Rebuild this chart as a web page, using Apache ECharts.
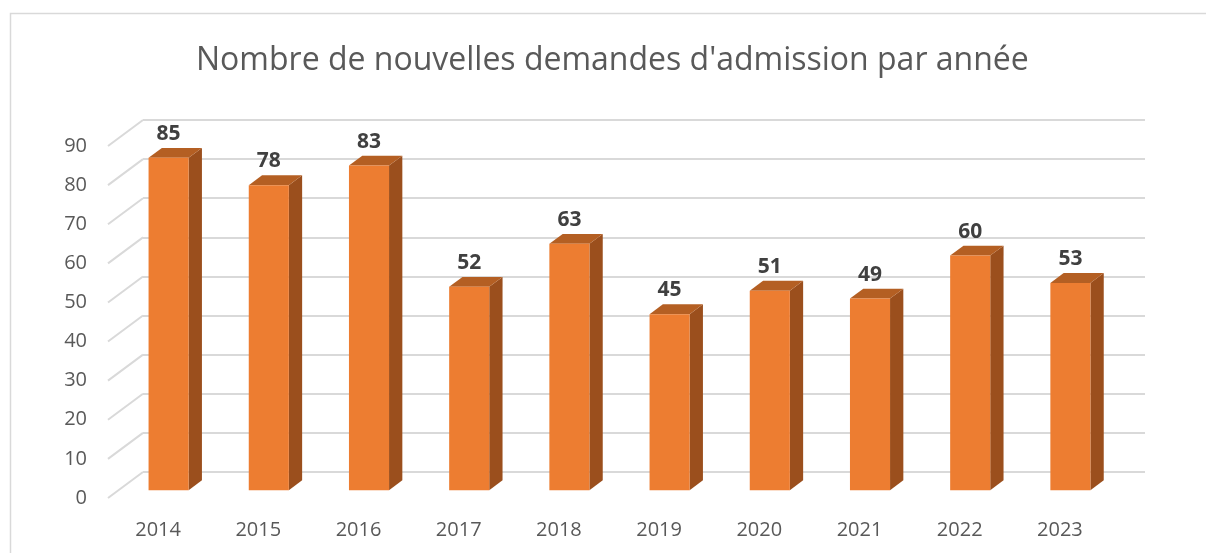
<!DOCTYPE html>
<html lang="fr">
<head>
<meta charset="utf-8">
<title>Nouvelles demandes d'admission</title>
<script src="https://cdn.jsdelivr.net/npm/echarts@6/dist/echarts.min.js"></script>
<style>
  html, body { margin: 0; padding: 0; background: #fff; }
  #main { width: 1206px; height: 553px; }
</style>
</head>
<body>
<div id="main"></div>
<script>
// donnees
var annees = ['2014', '2015', '2016', '2017', '2018', '2019', '2020', '2021', '2022', '2023'];
var demandes = [85, 78, 83, 52, 63, 45, 51, 49, 60, 53];
var graduations = [0, 10, 20, 30, 40, 50, 60, 70, 80, 90];

// profondeur du mur du fond (effet 3D)
var DX = 35, DY = -26;
var BAR_FRONT = 0.3, BAR_BACK = 0.68, BAR_W = 0.4;

var myChart = echarts.init(document.getElementById('main'));

var option = {
  animation: false,
  title: {
    text: "Nombre de nouvelles demandes d'admission par année",
    left: 191,
    top: 40,
    textStyle: { fontFamily: 'Open Sans', fontSize: 32, fontWeight: 'normal', color: '#595959' }
  },
  graphic: [{
    type: 'rect',
    shape: { x: 10.5, y: 13.5, width: 1300, height: 700 },
    style: { fill: 'none', stroke: '#d9d9d9', lineWidth: 1.5 },
    silent: true
  }],
  grid: [
    { left: 108, right: 96, top: 146, bottom: 55 },
    { left: 108 + DX, right: 96 - DX, top: 146 + DY, bottom: 55 - DY }
  ],
  xAxis: [
    {
      type: 'category', gridIndex: 0, data: annees,
      axisLine: { show: false }, axisTick: { show: false },
      axisLabel: { margin: 22, fontFamily: 'Open Sans', fontSize: 20, color: '#595959' }
    },
    {
      type: 'category', gridIndex: 1, data: annees, show: false
    }
  ],
  yAxis: [
    {
      type: 'value', gridIndex: 0, min: 0, max: 90, interval: 10,
      splitLine: { show: false }, axisLine: { show: false }, axisTick: { show: false },
      axisLabel: { margin: 21, padding: [4, 0, 0, 0], fontFamily: 'Open Sans', fontSize: 20, color: '#595959' }
    },
    {
      type: 'value', gridIndex: 1, min: 0, max: 90, interval: 10,
      axisLine: { show: false }, axisTick: { show: false }, axisLabel: { show: false },
      splitLine: { lineStyle: { color: '#d9d9d9', width: 2 } }
    }
  ],
  series: [
    {
      // lignes obliques du plancher vers le mur du fond
      type: 'custom', xAxisIndex: 0, yAxisIndex: 0, silent: true,
      data: graduations.map(function (g) { return [0, g]; }),
      renderItem: function (params, api) {
        var x = params.coordSys.x;
        var y = api.coord([0, api.value(1)])[1];
        return {
          type: 'line',
          shape: { x1: x, y1: y, x2: x + DX, y2: y + DY },
          style: { stroke: '#d9d9d9', lineWidth: 2 }
        };
      }
    },
    {
      type: 'custom', xAxisIndex: 0, yAxisIndex: 0,
      data: demandes.map(function (v, i) { return [i, v]; }),
      renderItem: function (params, api) {
        var base = api.coord([api.value(0), 0]);
        var top = api.coord([api.value(0), api.value(1)]);
        var bw = api.size([1, 0])[0] * BAR_W;
        var fx = BAR_FRONT * DX, fy = BAR_FRONT * DY;
        var ddx = (BAR_BACK - BAR_FRONT) * DX, ddy = (BAR_BACK - BAR_FRONT) * DY;
        var x0 = base[0] - bw / 2 + fx, x1 = base[0] + bw / 2 + fx;
        var yb = base[1] + fy, yt = top[1] + fy;
        return {
          type: 'group',
          children: [
            {
              type: 'polygon',
              shape: { points: [[x1, yb], [x1 + ddx, yb + ddy], [x1 + ddx, yt + ddy], [x1, yt]] },
              style: { fill: '#9b4f1d' }
            },
            {
              type: 'polygon',
              shape: { points: [[x0, yt], [x1, yt], [x1 + ddx, yt + ddy], [x0 + ddx, yt + ddy]] },
              style: { fill: '#b45f23' }
            },
            {
              type: 'rect',
              shape: { x: x0, y: yt, width: x1 - x0, height: yb - yt },
              style: { fill: '#ed7d31' }
            },
            {
              type: 'text',
              x: (x0 + x1) / 2, y: yt - 24,
              style: {
                text: String(api.value(1)), align: 'center', verticalAlign: 'middle',
                font: 'bold 21px "Open Sans"', fill: '#404040'
              }
            }
          ]
        };
      }
    }
  ]
};

myChart.setOption(option);
window.addEventListener('resize', function () { myChart.resize(); });
</script>
</body>
</html>
